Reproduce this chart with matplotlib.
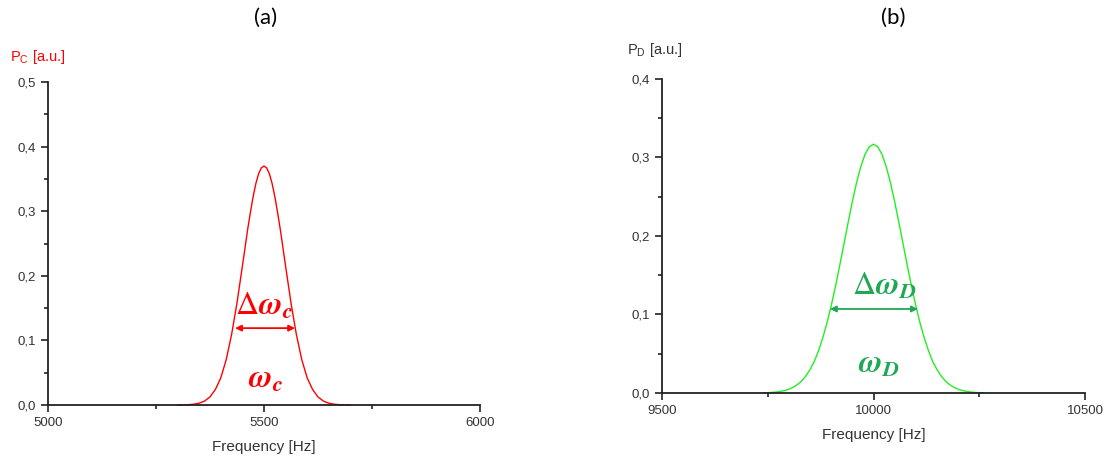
import numpy as np
import matplotlib.pyplot as plt
from matplotlib.ticker import MultipleLocator

plt.rcParams['mathtext.fontset'] = 'stix'
plt.rcParams['font.family'] = ['Liberation Sans', 'DejaVu Sans']

# (a) espectro de potencia P_C
freq_c = [5300, 5312.5, 5325, 5337.5, 5350, 5362.5, 5375, 5387.5, 5400, 5412.5,
          5425, 5437.5, 5450, 5456.25, 5462.5, 5468.75, 5475, 5481.25, 5487.5,
          5493.75, 5500, 5506.25, 5512.5, 5518.75, 5525, 5531.25, 5537.5, 5543.75,
          5550, 5562.5, 5575, 5587.5, 5600, 5612.5, 5625, 5637.5, 5650, 5662.5,
          5675, 5687.5, 5700]
pc = [0.0, 0.0002, 0.0005, 0.0012, 0.0028, 0.0061, 0.0125, 0.024, 0.042, 0.070,
      0.109, 0.158, 0.215, 0.244, 0.273, 0.299, 0.323, 0.343, 0.358,
      0.367, 0.370, 0.367, 0.358, 0.343, 0.323, 0.299, 0.273, 0.244,
      0.215, 0.158, 0.109, 0.070, 0.042, 0.024, 0.0125, 0.0061, 0.0028, 0.0012,
      0.0005, 0.0002, 0.0]

# (b) espectro de potencia P_D
freq_d = [9740, 9750, 9760, 9770, 9780, 9790, 9800, 9810, 9820, 9830, 9840, 9850,
          9860, 9870, 9880, 9890, 9900, 9910, 9920, 9930, 9940, 9950, 9960, 9970,
          9980, 9990, 10000, 10010, 10020, 10030, 10040, 10050, 10060, 10070,
          10080, 10090, 10100, 10110, 10120, 10130, 10140, 10150, 10160, 10170,
          10180, 10190, 10200, 10210, 10220, 10230, 10240, 10250, 10260]
pd_ = [0.0003, 0.0004, 0.0007, 0.0012, 0.0020, 0.0031, 0.0048, 0.0072, 0.0106,
       0.0152, 0.0215, 0.0298, 0.040, 0.0537, 0.070, 0.0890, 0.111, 0.1354,
       0.162, 0.1895, 0.217, 0.2438, 0.268, 0.2884, 0.304, 0.3137, 0.317,
       0.3137, 0.304, 0.2884, 0.268, 0.2438, 0.217, 0.1895, 0.162, 0.1354,
       0.111, 0.0890, 0.070, 0.0537, 0.040, 0.0298, 0.0215, 0.0152, 0.0106,
       0.0072, 0.0048, 0.0031, 0.0020, 0.0012, 0.0007, 0.0004, 0.0003]

xticks_c = [5000, 5500, 6000]
yticks_c = [0.0, 0.1, 0.2, 0.3, 0.4, 0.5]
xticks_d = [9500, 10000, 10500]
yticks_d = [0.0, 0.1, 0.2, 0.3, 0.4]

# anotaciones: ancho de banda (flecha) y centro
dw_c = (5433, 5572, 0.119)
dw_d = (9897, 10105, 0.107)

red = '#ff0000'
lime = '#22ee22'
green = '#1fa855'

fig = plt.figure(figsize=(11.05, 4.66), dpi=100)
ax1 = fig.add_axes([0.0434, 0.1309, 0.391, 0.693])
ax2 = fig.add_axes([0.599, 0.1567, 0.383, 0.6738])


def style(ax, xt, yt, xmin_step, ymin_step):
    for s in ['top', 'right']:
        ax.spines[s].set_visible(False)
    for s in ['left', 'bottom']:
        ax.spines[s].set_linewidth(1.3)
        ax.spines[s].set_color('#222222')
    ax.set_xlim(xt[0], xt[-1])
    ax.set_ylim(yt[0], yt[-1])
    ax.set_xticks(xt)
    ax.set_yticks(yt)
    ax.set_xticklabels([str(v) for v in xt])
    ax.set_yticklabels([('%.1f' % v).replace('.', ',') for v in yt])
    ax.xaxis.set_minor_locator(MultipleLocator(xmin_step))
    ax.yaxis.set_minor_locator(MultipleLocator(ymin_step))
    ax.tick_params(which='major', direction='out', length=5, width=1.2,
                   labelsize=9.5, labelcolor='#333333', color='#222222')
    ax.tick_params(which='minor', direction='out', length=3, width=1.2, color='#222222')
    ax.set_xlabel('Frequency [Hz]', fontsize=11, color='#333333', labelpad=8)
    ax.patch.set_alpha(0)


style(ax1, xticks_c, yticks_c, 250, 0.05)
style(ax2, xticks_d, yticks_d, 250, 0.05)

ax1.plot(freq_c, pc, color=red, lw=1.0, clip_on=False)
ax2.plot(freq_d, pd_, color=lime, lw=1.0, clip_on=False)

ax1.annotate('', xy=(dw_c[0], dw_c[2]), xytext=(dw_c[1], dw_c[2]),
             arrowprops=dict(arrowstyle='<|-|>', color=red, lw=1.3,
                             mutation_scale=9, shrinkA=0, shrinkB=0))
ax1.text(5500, 0.152, r'$\Delta\boldsymbol{\omega}_{\boldsymbol{c}}$', color=red,
         fontsize=23, ha='center', va='center')
ax1.text(5503, 0.039, r'$\boldsymbol{\omega}_{\boldsymbol{c}}$', color=red,
         fontsize=23, ha='center', va='center')

ax2.annotate('', xy=(dw_d[0], dw_d[2]), xytext=(dw_d[1], dw_d[2]),
             arrowprops=dict(arrowstyle='<|-|>', color=green, lw=1.3,
                             mutation_scale=9, shrinkA=0, shrinkB=0))
ax2.text(10025, 0.135, r'$\Delta\boldsymbol{\omega}_{\boldsymbol{D}}$', color=green,
         fontsize=23, ha='center', va='center')
ax2.text(10012, 0.036, r'$\boldsymbol{\omega}_{\boldsymbol{D}}$', color=green,
         fontsize=23, ha='center', va='center')

# etiquetas del eje y arriba a la izquierda
fig.text(0.009, 0.877, r'P$_\mathregular{C}$ [a.u.]', color=red, fontsize=10.5,
         ha='left', va='center')
fig.text(0.567, 0.893, r'P$_\mathregular{D}$ [a.u.]', color='#333333', fontsize=10.5,
         ha='left', va='center')

fig.text(0.240, 0.962, '(a)', fontsize=16, ha='center', va='center', family='Lato')
fig.text(0.808, 0.962, '(b)', fontsize=16, ha='center', va='center', family='Lato')

fig.savefig('out.png', dpi=100)
